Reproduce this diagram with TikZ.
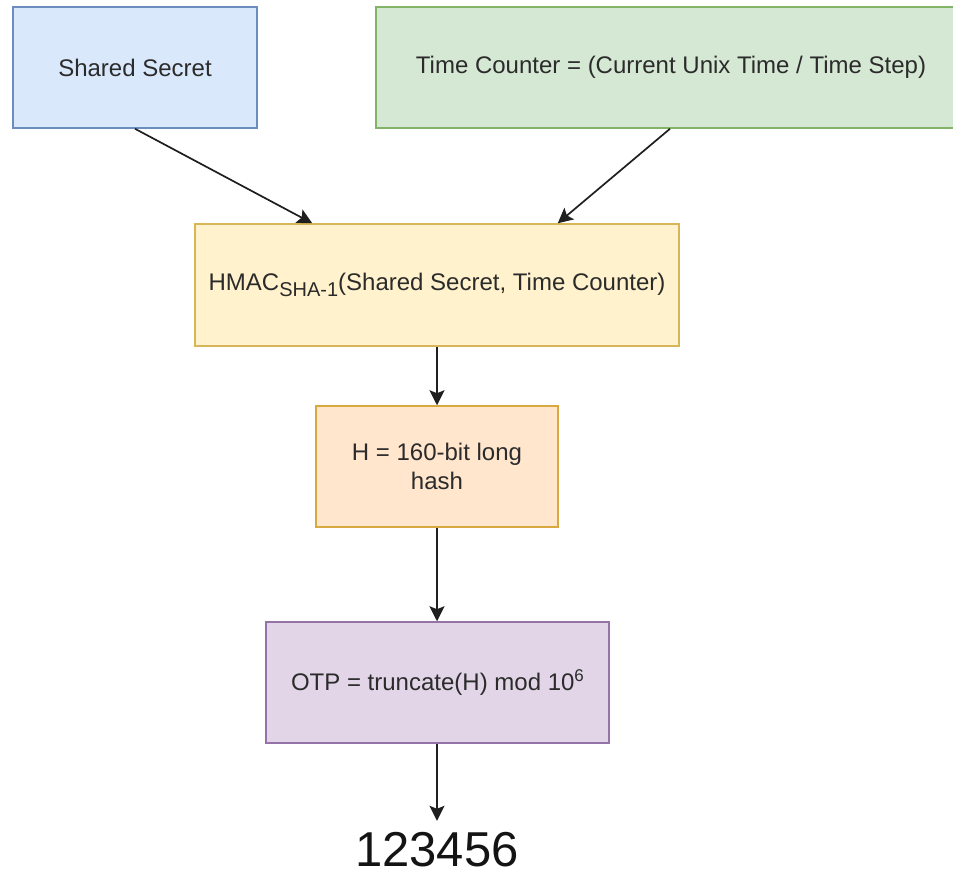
\documentclass[tikz,border=0pt]{standalone}
\usepackage{fontspec}
\setmainfont{Liberation Sans}
\usetikzlibrary{arrows.meta}
\definecolor{blueFill}{HTML}{DAE8FC}\definecolor{blueLine}{HTML}{6C8EBF}
\definecolor{greenFill}{HTML}{D5E8D4}\definecolor{greenLine}{HTML}{82B366}
\definecolor{yellowFill}{HTML}{FFF2CC}\definecolor{yellowLine}{HTML}{D6B656}
\definecolor{orangeFill}{HTML}{FFE6CC}\definecolor{orangeLine}{HTML}{D9A93F}
\definecolor{purpleFill}{HTML}{E1D5E7}\definecolor{purpleLine}{HTML}{9673A6}
\definecolor{txt}{HTML}{2B2B2B}
\tikzset{
  box/.style={draw, line width=1.5pt, rectangle, align=center, text=txt,
    font=\fontsize{24}{29}\selectfont, inner sep=0pt},
  arr/.style={-{Stealth[length=15pt,width=15pt,inset=3pt]}, line width=1.7pt, draw=black!88},
}
\begin{document}
\begin{tikzpicture}[x=1pt,y=-1pt]
  \useasboundingbox (0,0) rectangle (953,875);
  \fill[white] (0,0) rectangle (953,875);

  \node[box, fill=blueFill, draw=blueLine, minimum width=244pt, minimum height=121pt]
    (ss) at (135,67.5) {Shared Secret};
  \node[box, fill=greenFill, draw=greenLine, minimum width=590pt, minimum height=121pt]
    (tc) at (671,67.5) {Time Counter = (Current Unix Time / Time Step)};
  \node[box, fill=yellowFill, draw=yellowLine, minimum width=484pt, minimum height=122pt]
    (hmac) at (437,285) {HMAC\raisebox{-6pt}{\fontsize{20}{20}\selectfont SHA-1}(Shared Secret, Time Counter)};
  \node[box, fill=orangeFill, draw=orangeLine, minimum width=242pt, minimum height=121pt]
    (hash) at (437,466.5) {H = 160-bit long\\hash};
  \node[box, fill=purpleFill, draw=purpleLine, minimum width=343pt, minimum height=121pt]
    (otp) at (437.5,682.5) {OTP = truncate(H) mod 10\raisebox{9pt}{\fontsize{17}{17}\selectfont 6}};
  \node[anchor=base, font=\fontsize{49}{49}\selectfont, text=black!92, text height=36pt,
    text depth=0pt, inner sep=0pt] (res) at (437,866) {123456};

  \coordinate (inL) at ([xshift=118pt]hmac.north west);
  \coordinate (inR) at ([xshift=-122pt]hmac.north east);
  \coordinate (resTop) at ([yshift=9pt]res.north);

  \draw[arr] (ss.south) -- (inL);
  \draw[arr] ([xshift=-1pt]tc.south) -- (inR);
  \draw[arr] (hmac.south) -- (hash.north);
  \draw[arr] (hash.south) -- (otp.north -| hash.south);
  \draw[arr] (otp.south -| hash.south) -- (resTop);
\end{tikzpicture}
\end{document}
